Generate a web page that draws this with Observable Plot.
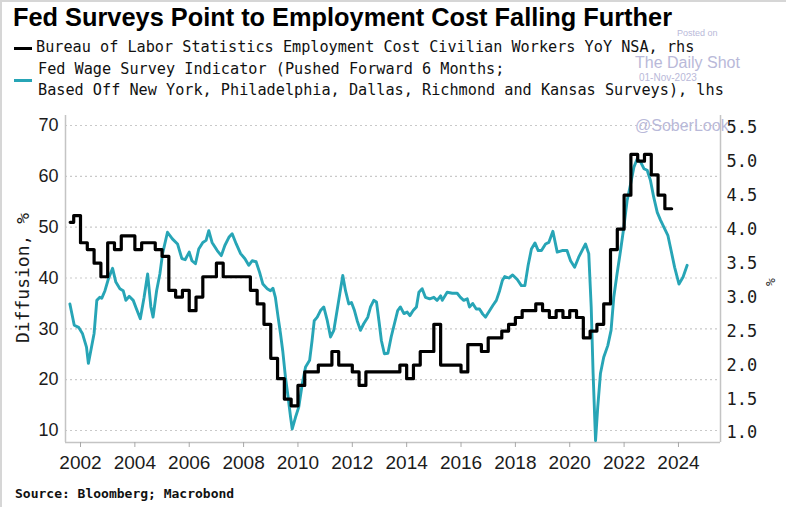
<!DOCTYPE html>
<html><head><meta charset="utf-8">
<script src="https://cdn.jsdelivr.net/npm/d3@7"></script>
<script src="https://cdn.jsdelivr.net/npm/@observablehq/plot@0.6"></script>
<style>
html,body{margin:0;padding:0;background:#fff;}
#wrap{position:relative;width:786px;height:507px;overflow:hidden;background:#fff;}
.t{position:absolute;white-space:nowrap;transform-origin:0 50%;}
.r{position:absolute;white-space:nowrap;transform:translate(-50%,-50%) rotate(-90deg);transform-origin:50% 50%;}
#chart{position:absolute;left:0;top:105px;}
.sw{position:absolute;}
</style>
</head><body>
<div id="wrap"><div id="chart"></div></div>
<script>
// ---------------- data ----------------
const titleText = "Fed Surveys Point to Employment Cost Falling Further";
const legendBlack = "Bureau of Labor Statistics Employment Cost Civilian Workers YoY NSA, rhs";
const legendTeal1 = "Fed Wage Survey Indicator (Pushed Forward 6 Months;";
const legendTeal2 = "Based Off New York, Philadelphia, Dallas, Richmond and Kansas Surveys), lhs";
const sourceText = "Source: Bloomberg; Macrobond";
const leftLabel = "Diffusion, %";
const rightLabel = "%";

const xTicks = [2002, 2004, 2006, 2008, 2010, 2012, 2014, 2016, 2018, 2020, 2022, 2024];
const leftTicks = [10, 20, 30, 40, 50, 60, 70];
const rightTicks = [1.0, 1.5, 2.0, 2.5, 3.0, 3.5, 4.0, 4.5, 5.0, 5.5];

// ECI civilian workers YoY (%), quarterly from 2001Q3 to 2023Q3 (right axis)
const eciFirstQuarterEnd = 2001.75;
const eciStart = 2001.62;
const eciValues = [
  4.1, 4.2,
  3.8, 3.7, 3.5, 3.3,
  3.8, 3.7, 3.9, 3.9,
  3.7, 3.8, 3.8, 3.7,
  3.6, 3.1, 3.0, 3.1,
  2.8, 3.0, 3.3, 3.3,
  3.5, 3.3, 3.3, 3.3,
  3.3, 3.1, 2.9, 2.6,
  2.1, 1.8, 1.5, 1.4,
  1.7, 1.9, 1.9, 2.0,
  2.0, 2.2, 2.0, 2.0,
  1.9, 1.7, 1.9, 1.9,
  1.9, 1.9, 1.9, 2.0,
  1.8, 2.0, 2.2, 2.2,
  2.6, 2.0, 2.0, 2.0,
  1.9, 2.3, 2.3, 2.2,
  2.4, 2.4, 2.5, 2.6,
  2.7, 2.8, 2.8, 2.9,
  2.8, 2.7, 2.8, 2.7,
  2.8, 2.7, 2.4, 2.5,
  2.6, 2.9, 3.7, 4.0,
  4.5, 5.1, 5.0, 5.1,
  4.8, 4.5, 4.3
];

// Fed wage survey indicator (diffusion, left axis)
const fedYears = [
  2001.61,2001.77,2001.93,2002.07,2002.22,2002.29,2002.50,2002.60,2002.71,2002.78,2002.90,
  2003.03,2003.18,2003.30,2003.45,2003.57,2003.67,2003.79,2003.94,
  2004.06,2004.20,2004.34,2004.47,2004.59,2004.67,2004.80,2004.92,
  2005.02,2005.20,2005.38,2005.57,2005.73,2005.85,
  2006.00,2006.10,2006.23,2006.35,2006.50,2006.62,2006.72,2006.84,
  2007.03,2007.18,2007.31,2007.46,2007.58,2007.73,2007.89,
  2008.05,2008.19,2008.32,2008.46,2008.59,2008.71,2008.87,2008.99,
  2009.08,2009.17,2009.27,2009.36,2009.44,2009.54,2009.64,2009.73,2009.79,2009.91,
  2010.03,2010.16,2010.28,2010.43,2010.52,2010.60,2010.71,2010.83,2010.95,
  2011.08,2011.20,2011.32,2011.44,2011.54,2011.65,2011.75,2011.87,2011.97,
  2012.08,2012.18,2012.30,2012.42,2012.57,2012.67,2012.79,2012.89,2012.98,
  2013.07,2013.18,2013.31,2013.43,2013.55,2013.67,2013.77,2013.90,
  2014.02,2014.12,2014.24,2014.36,2014.45,2014.57,2014.69,2014.85,
  2015.00,2015.12,2015.25,2015.31,2015.49,2015.68,2015.86,2015.98,
  2016.10,2016.23,2016.31,2016.43,2016.56,2016.68,2016.80,2016.90,
  2017.02,2017.17,2017.30,2017.42,2017.52,2017.61,2017.76,2017.90,
  2018.07,2018.22,2018.35,2018.47,2018.59,2018.72,2018.84,2018.96,
  2019.11,2019.23,2019.38,2019.54,2019.72,2019.90,
  2020.03,2020.18,2020.33,2020.58,2020.70,2020.79,2020.86,2020.95,
  2021.03,2021.13,2021.25,2021.40,2021.52,2021.62,2021.74,2021.87,2021.99,
  2022.11,2022.24,2022.36,2022.48,2022.61,2022.73,2022.85,2022.97,
  2023.09,2023.22,2023.34,2023.49,2023.61,2023.73,2023.86,
  2024.02,2024.17,2024.32
];
const fedValues = [
  34.9,30.7,30.3,29.1,26.4,23.2,29.1,35.6,36.2,36.0,37.5,
  39.9,41.9,39.2,37.9,37.5,35.6,36.4,35.6,
  33.9,32.0,36.2,40.8,34.3,32.3,37.5,40.8,
  44.8,49.0,47.7,46.7,43.8,43.6,
  45.1,43.4,42.8,45.7,47.0,47.4,49.3,47.0,
  45.4,44.4,46.4,48.0,48.7,46.7,44.8,
  43.8,42.5,43.4,43.2,41.1,38.8,37.9,37.5,
  38.0,36.2,32.3,29.0,25.7,20.5,16.5,12.6,10.3,12.6,
  14.6,19.2,22.5,23.8,27.7,31.6,32.3,33.6,34.3,
  31.6,28.4,29.7,33.6,36.9,40.5,37.5,34.9,35.2,
  33.6,31.6,29.7,31.0,32.3,34.3,35.6,35.3,31.6,
  27.7,25.1,25.2,28.4,31.0,33.6,34.3,33.0,
  33.3,32.6,33.6,34.3,37.2,37.9,36.2,35.9,
  36.2,35.6,36.5,35.6,37.2,37.0,37.0,36.2,
  35.6,35.9,34.3,35.0,33.9,33.9,32.9,32.3,
  33.3,34.6,35.6,37.5,39.5,40.3,40.0,40.6,
  39.7,38.5,38.5,42.5,45.7,46.9,45.4,45.4,
  46.7,47.0,49.2,45.1,45.4,45.4,
  43.4,42.1,44.1,46.7,44.8,34.3,21.2,8.0,
  14.6,21.2,24.4,26.7,29.7,36.2,40.8,45.4,50.0,
  55.2,58.5,61.8,63.4,62.8,61.5,61.2,59.2,
  55.9,52.9,51.4,49.7,48.4,45.4,42.1,
  38.8,40.2,42.5
];

// ---------------- scales / helpers ----------------
const xDomain = [2001.448, 2025.547];
const yDomain = [7.64, 71.97];
const toLeft = r => 9.5 + (r - 1) * 13.37;     // right-axis value -> left-axis units
const toRight = v => 1 + (v - 9.5) / 13.37;

const fed = fedYears.map((x, i) => ({x, y: fedValues[i]}));
const eci = [{x: eciStart, y: toLeft(eciValues[0])}]
  .concat(eciValues.map((r, i) => ({x: eciFirstQuarterEnd + 0.25 * i, y: toLeft(r)})));

const TEAL = "#27a5b6";
const AXIS = "#c4c4c4";
const sans = "'Liberation Sans', Arial, sans-serif";
const mono = "'DejaVu Sans Mono', 'Liberation Mono', monospace";

const chart = Plot.plot({
  width: 786, height: 375,
  marginLeft: 65, marginRight: 66, marginTop: 10, marginBottom: 38,
  x: {domain: xDomain},
  y: {domain: yDomain},
  style: {background: "transparent", color: "#1b1b1b"},
  marks: [
    Plot.ruleY(leftTicks, {stroke: "#c9c9c9", strokeWidth: 1.2, strokeDasharray: "2,3"}),
    Plot.ruleX([xDomain[0]], {stroke: AXIS, strokeWidth: 1.5}),
    Plot.ruleX([xDomain[1]], {stroke: AXIS, strokeWidth: 1.5}),
    Plot.ruleY([yDomain[0]], {stroke: AXIS, strokeWidth: 1.5}),
    Plot.line(fed, {x: "x", y: "y", stroke: TEAL, strokeWidth: 2.9, curve: "linear"}),
    Plot.line(eci, {x: "x", y: "y", stroke: "#000", strokeWidth: 3.2, curve: "step-before"}),
    Plot.axisX(xTicks, {anchor: "bottom", tickSize: 5, tickPadding: 8, stroke: "#a8a8a8",
      fill: "#1b1b1b", fontSize: 19, fontFamily: sans, tickFormat: d => String(d), label: null}),
    Plot.axisY(leftTicks, {anchor: "left", tickSize: 0, tickPadding: 7, fill: "#1b1b1b",
      fontSize: 18, fontFamily: sans, label: null}),
    Plot.axisY(rightTicks.map(toLeft), {anchor: "right", tickSize: 0, tickPadding: 6, fill: "#1b1b1b",
      fontSize: 17, fontFamily: mono, tickFormat: v => toRight(v).toFixed(1), label: null})
  ]
});
document.getElementById("chart").appendChild(chart);

// ---------------- HTML text ----------------
const wrap = document.getElementById("wrap");
function addText(txt, o) {
  const d = document.createElement("div");
  d.className = "t"; d.textContent = txt;
  const lh = o.lh || 1.2;
  Object.assign(d.style, {left: o.x + "px", top: (o.cy - o.size * lh / 2) + "px", fontSize: o.size + "px",
    lineHeight: (o.size * lh) + "px", fontFamily: o.family, fontWeight: o.weight || "normal",
    color: o.color || "#000", zIndex: o.z || 2});
  wrap.appendChild(d);
  if (o.width) { const w = d.getBoundingClientRect().width; d.style.transform = `scaleX(${o.width / w})`; }
  return d;
}
function addRot(txt, o) {
  const d = document.createElement("div");
  d.className = "r"; d.textContent = txt;
  Object.assign(d.style, {left: o.cx + "px", top: o.cy + "px", fontSize: o.size + "px",
    lineHeight: (o.size * 1.2) + "px", fontFamily: o.family, color: o.color || "#1b1b1b"});
  wrap.appendChild(d);
}
function addSwatch(x, y, w, h, c) {
  const d = document.createElement("div");
  d.className = "sw";
  Object.assign(d.style, {left: x + "px", top: y + "px", width: w + "px", height: h + "px", background: c});
  wrap.appendChild(d);
}

addText(titleText, {x: 13, cy: 17, size: 25, family: sans, weight: "bold", width: 659, lh: 1});
addSwatch(14, 46.5, 18, 3, "#000");
addText(legendBlack, {x: 36, cy: 48, size: 15.2, family: mono, color: "#111", lh: 1});
addSwatch(14, 79, 18, 3, TEAL);
addText(legendTeal1, {x: 38, cy: 70, size: 15.2, family: mono, color: "#111", lh: 1});
addText(legendTeal2, {x: 38, cy: 91, size: 15.2, family: mono, color: "#111", lh: 1});
addText(sourceText, {x: 15, cy: 494, size: 13, family: mono, weight: "bold", color: "#111"});

addRot(leftLabel, {cx: 23, cy: 278, size: 18, family: mono});
addRot(rightLabel, {cx: 771, cy: 282, size: 13, family: mono});

// watermark
const WM = "#b9b9d9";
addText("Posted on", {x: 677, cy: 33.4, size: 9, family: sans, color: WM, z: 5, lh: 1});
addText("The Daily Shot", {x: 635, cy: 63, size: 16, family: sans, color: WM, z: 5, lh: 1});
addText("01-Nov-2023", {x: 639, cy: 77.6, size: 10, family: sans, color: WM, z: 5, lh: 1});
addText("@SoberLook", {x: 635, cy: 126, size: 16, family: sans, color: WM, z: 1});

// image border (top / left)
addSwatch(0, 0, 786, 2, "#d6d6d6");
addSwatch(0, 0, 2, 507, "#d6d6d6");
</script>
</body></html>
